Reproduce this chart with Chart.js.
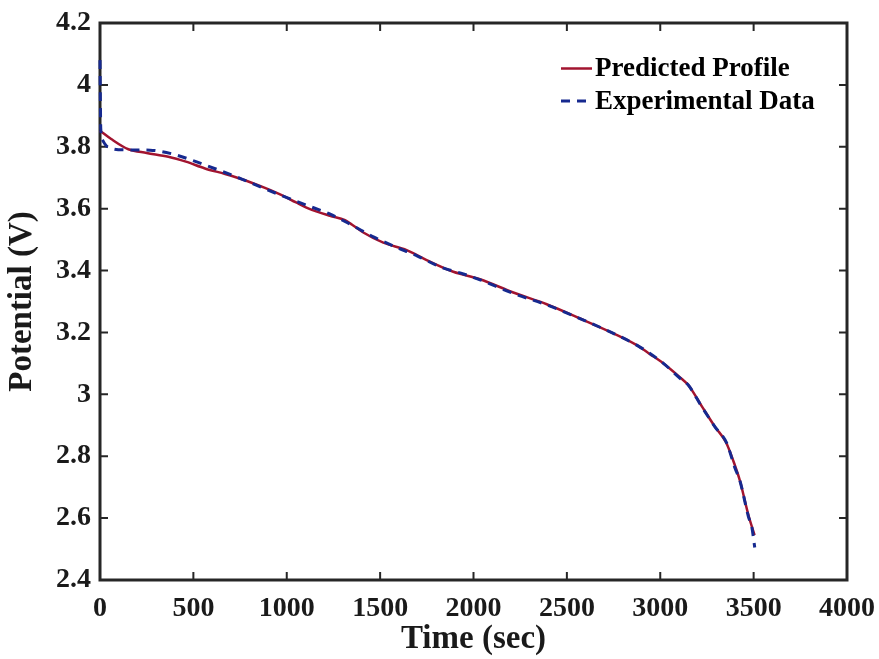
<!DOCTYPE html>
<html>
<head>
<meta charset="utf-8">
<script src="https://cdn.jsdelivr.net/npm/chart.js@4.4.1/dist/chart.umd.min.js"></script>
<style>
html,body{margin:0;padding:0;background:#fff;}
#wrap{width:879px;height:659px;}
</style>
</head>
<body>
<div id="wrap"><canvas id="c" width="879" height="659"></canvas></div>
<script>
// ---- data ----
const xTicks = [0, 500, 1000, 1500, 2000, 2500, 3000, 3500, 4000];
const yTicks = [2.4, 2.6, 2.8, 3.0, 3.2, 3.4, 3.6, 3.8, 4.0, 4.2];

const predictedTime = [0, 60, 152, 250, 366, 460, 562, 670, 776, 880, 973, 1050, 1115, 1231, 1312, 1350, 1410, 1517, 1642, 1749, 1892, 2035, 2213, 2392, 2570, 2749, 2874, 2945, 3017, 3106, 3150, 3222, 3293, 3352, 3400, 3427, 3472, 3505];
const predictedV    = [3.852, 3.825, 3.792, 3.780, 3.768, 3.752, 3.730, 3.712, 3.692, 3.668, 3.644, 3.620, 3.601, 3.577, 3.563, 3.548, 3.523, 3.490, 3.466, 3.434, 3.396, 3.372, 3.329, 3.291, 3.245, 3.197, 3.159, 3.130, 3.100, 3.055, 3.030, 2.962, 2.895, 2.845, 2.770, 2.720, 2.610, 2.545];

const experimentalTime = [0, 2, 4, 15, 40, 134, 268, 393, 518, 634, 750, 875, 991, 1107, 1230, 1348, 1464, 1580, 1700, 1821, 1946, 2035, 2213, 2392, 2570, 2749, 2874, 2945, 3017, 3106, 3150, 3222, 3293, 3356, 3400, 3427, 3472, 3490, 3506];
const experimentalV    = [4.08, 3.95, 3.86, 3.82, 3.80, 3.790, 3.789, 3.776, 3.751, 3.725, 3.698, 3.666, 3.638, 3.611, 3.583, 3.547, 3.509, 3.477, 3.447, 3.412, 3.389, 3.370, 3.326, 3.289, 3.245, 3.197, 3.159, 3.132, 3.100, 3.052, 3.030, 2.960, 2.895, 2.842, 2.762, 2.720, 2.605, 2.572, 2.505];

const seriesNames = ['Predicted Profile', 'Experimental Data'];

const RED = '#a2142f';
const BLUE = '#16298f';
const AXIS = '#262626';
const FONT = '"Liberation Serif", "Times New Roman", serif';

const toPts = (xs, ys) => xs.map((x, i) => ({x: x, y: ys[i]}));

const framePlugin = {
  id: 'frame',
  beforeDatasetsDraw(chart) {
    const {ctx, chartArea: a, scales} = chart;
    ctx.save();
    ctx.strokeStyle = AXIS;
    ctx.lineWidth = 2;
    const tl = 8;
    ctx.beginPath();
    xTicks.forEach(v => {
      const px = scales.x.getPixelForValue(v);
      ctx.moveTo(px, a.bottom); ctx.lineTo(px, a.bottom - tl);
      ctx.moveTo(px, a.top); ctx.lineTo(px, a.top + tl);
    });
    yTicks.forEach(v => {
      const py = scales.y.getPixelForValue(v);
      ctx.moveTo(a.left, py); ctx.lineTo(a.left + tl, py);
      ctx.moveTo(a.right, py); ctx.lineTo(a.right - tl, py);
    });
    ctx.stroke();
    ctx.lineWidth = 3;
    ctx.strokeRect(a.left, a.top, a.right - a.left, a.bottom - a.top);
    ctx.restore();
  },
  afterDatasetsDraw(chart) {
    const {ctx, chartArea: a} = chart;
    ctx.save();
    const x0 = a.left + 461, x1 = a.left + 492, tx = a.left + 495;
    const rows = [68.5, 101];
    ctx.font = 'bold 27px ' + FONT;
    ctx.textBaseline = 'middle';
    ctx.fillStyle = '#000';
    chart.data.datasets.forEach(ds => {
      const k = seriesNames.indexOf(ds.label);
      const y = rows[k];
      ctx.strokeStyle = ds.borderColor;
      ctx.lineWidth = ds.borderWidth;
      ctx.setLineDash(ds.borderDash || []);
      ctx.beginPath(); ctx.moveTo(x0, y); ctx.lineTo(x1, y); ctx.stroke();
      ctx.setLineDash([]);
      ctx.fillText(ds.label, tx, y + 1);
    });
    ctx.restore();
  }
};

new Chart(document.getElementById('c'), {
  type: 'line',
  data: {
    datasets: [
      {
        label: seriesNames[1],
        data: toPts(experimentalTime, experimentalV),
        borderColor: BLUE,
        borderWidth: 3,
        borderDash: [9, 7],
        pointRadius: 0,
        cubicInterpolationMode: 'monotone',
        order: 0,
        clip: 6
      },
      {
        label: seriesNames[0],
        data: toPts(predictedTime, predictedV),
        borderColor: RED,
        borderWidth: 2.5,
        pointRadius: 0,
        cubicInterpolationMode: 'monotone',
        order: 1,
        clip: 6
      }
    ]
  },
  options: {
    responsive: false,
    animation: false,
    devicePixelRatio: 1,
    layout: {padding: {left: 0, right: 32, top: 23, bottom: 0}},
    plugins: {legend: {display: false}, tooltip: {enabled: false}},
    scales: {
      x: {
        type: 'linear',
        min: 0, max: 4000,
        afterBuildTicks: s => { s.ticks = xTicks.map(v => ({value: v})); },
        afterFit: s => { s.height = 79; s.paddingLeft = 0; s.paddingRight = 0; },
        grid: {display: false, drawTicks: false},
        border: {display: false},
        ticks: {
          padding: 12,
          color: '#1a1a1a',
          font: {family: FONT, size: 28, weight: 'bold'},
          maxRotation: 0,
          callback: v => String(v)
        },
        title: {
          display: true,
          text: 'Time (sec)',
          color: '#1a1a1a',
          font: {family: FONT, size: 33, weight: 'bold'},
          padding: {top: 0, bottom: 0}
        }
      },
      y: {
        type: 'linear',
        min: 2.4, max: 4.2,
        afterBuildTicks: s => { s.ticks = yTicks.map(v => ({value: v})); },
        afterFit: s => { s.width = 100; s.paddingTop = 0; s.paddingBottom = 0; },
        grid: {display: false, drawTicks: false},
        border: {display: false},
        ticks: {
          padding: 9,
          color: '#1a1a1a',
          font: {family: FONT, size: 28, weight: 'bold'},
          callback: v => String(Math.round(v * 10) / 10)
        },
        title: {
          display: true,
          text: 'Potential (V)',
          color: '#1a1a1a',
          font: {family: FONT, size: 33, weight: 'bold'},
          padding: {top: 3, bottom: 0}
        }
      }
    }
  },
  plugins: [framePlugin]
});
</script>
</body>
</html>
